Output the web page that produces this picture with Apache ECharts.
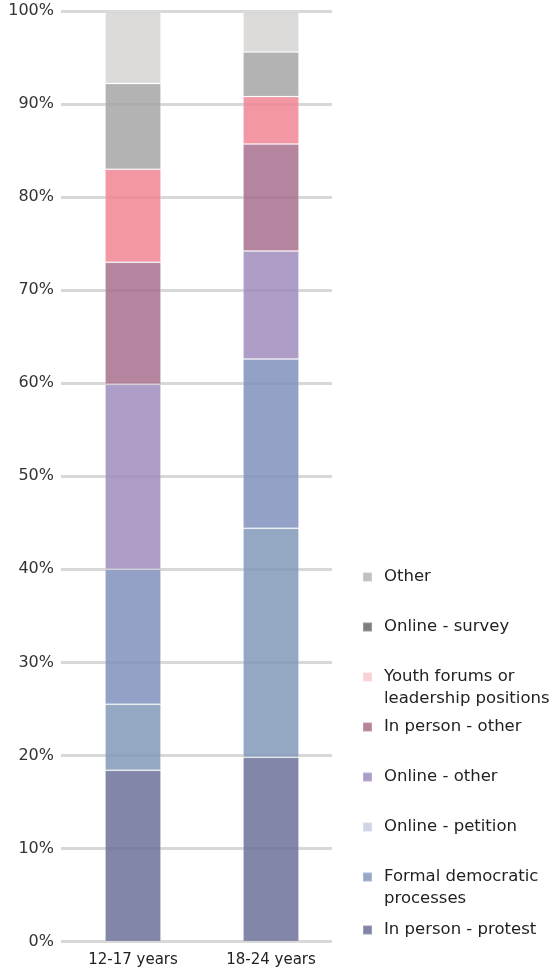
<!DOCTYPE html>
<html>
<head>
<meta charset="utf-8">
<script src="https://cdn.jsdelivr.net/npm/echarts@6/dist/echarts.min.js"></script>
<style>
  html, body { margin: 0; padding: 0; background: #fff; }
  #chart { width: 555px; height: 976px; }
</style>
</head>
<body>
<div id="chart"></div>
<script>
  // categories and shares (% of each age group), stacked bottom -> top
  const categories = ['12-17 years', '18-24 years'];
  const seriesNames = [
    'In person - protest',
    'Formal democratic processes',
    'Online - petition',
    'Online - other',
    'In person - other',
    'Youth forums or leadership positions',
    'Online - survey',
    'Other'
  ];
  const protest = [18.4, 19.8];
  const formal = [7.1, 24.6];
  const petition = [14.5, 18.2];
  const onlineOther = [19.9, 11.6];
  const inPersonOther = [13.1, 11.5];
  const youthForums = [10.0, 5.1];
  const onlineSurvey = [9.2, 4.8];
  const other = [7.8, 4.4];
  const yTicks = [0, 10, 20, 30, 40, 50, 60, 70, 80, 90, 100];
  const yTickLabels = ['0%', '10%', '20%', '30%', '40%', '50%', '60%', '70%', '80%', '90%', '100%'];

  const values = [protest, formal, petition, onlineOther, inPersonOther, youthForums, onlineSurvey, other];
  // bar colours (drawn at 0.85 opacity so the grid shows through) and legend swatch colours
  const barColors = ['#6c7199', '#8299b8', '#8190bd', '#a08cbc', '#a86e8d', '#f18594', '#a7a6a7', '#d6d5d3'];
  const legendColors = ['#8084a6', '#95a8c5', '#d0d3e7', '#ac9dc7', '#b4839a', '#f9d0d4', '#7f7f7f', '#c0c0c0'];
  // leading \n puts the first line of a two-line label level with its swatch
  const legendLabels = [
    'In person - protest',
    '\nFormal democratic\nprocesses',
    'Online - petition',
    'Online - other',
    'In person - other',
    '\nYouth forums or\nleadership positions',
    'Online - survey',
    'Other'
  ];
  const legendTops = [919, 844, 816, 766, 716, 644, 616, 566];

  const chart = echarts.init(document.getElementById('chart'));

  const legends = seriesNames.map((name, i) => ({
    orient: 'vertical',
    left: 362,
    top: legendTops[i],
    padding: 0,
    itemWidth: 9,
    itemHeight: 9,
    icon: 'rect',
    selectedMode: false,
    data: [{ name: name, itemStyle: { color: legendColors[i], opacity: 1 } }],
    formatter: () => legendLabels[i],
    textStyle: {
      fontFamily: 'DejaVu Sans',
      fontSize: 16.5,
      lineHeight: 22,
      color: '#222',
      padding: [0, 0, 0, 7]
    }
  }));

  const option = {
    animation: false,
    legend: legends,
    grid: [
      { left: 61, right: 223, top: 11, bottom: 34.5 },
      { left: 64, right: 215, top: 11, bottom: 34.5 }
    ],
    xAxis: [
      { type: 'category', gridIndex: 0, data: categories, show: false },
      {
        type: 'category',
        gridIndex: 1,
        data: categories,
        axisLine: { show: false },
        axisTick: { show: false },
        axisLabel: {
          margin: 11,
          fontFamily: 'DejaVu Sans',
          fontSize: 15,
          color: '#222'
        }
      }
    ],
    yAxis: [
      {
        type: 'value',
        gridIndex: 0,
        min: 0,
        max: 100,
        interval: 10,
        axisLine: { show: false },
        axisTick: { show: false },
        axisLabel: {
          margin: 7,
          fontFamily: 'DejaVu Sans',
          fontSize: 16,
          color: '#333',
          formatter: (v) => yTickLabels[yTicks.indexOf(v)]
        },
        splitLine: { lineStyle: { color: '#d8d8d8', width: 3 } }
      },
      {
        type: 'value',
        gridIndex: 1,
        min: 0,
        max: 100,
        interval: 10,
        show: false,
        splitLine: { show: false }
      }
    ],
    series: seriesNames.map((name, i) => ({
      name: name,
      type: 'bar',
      stack: 'total',
      xAxisIndex: 1,
      yAxisIndex: 1,
      barWidth: 56,
      data: values[i],
      itemStyle: {
        color: barColors[i],
        opacity: 0.85,
        borderColor: 'rgba(255,255,255,0.2)',
        borderWidth: 1
      },
      emphasis: { disabled: true }
    }))
  };

  chart.setOption(option);
</script>
</body>
</html>
